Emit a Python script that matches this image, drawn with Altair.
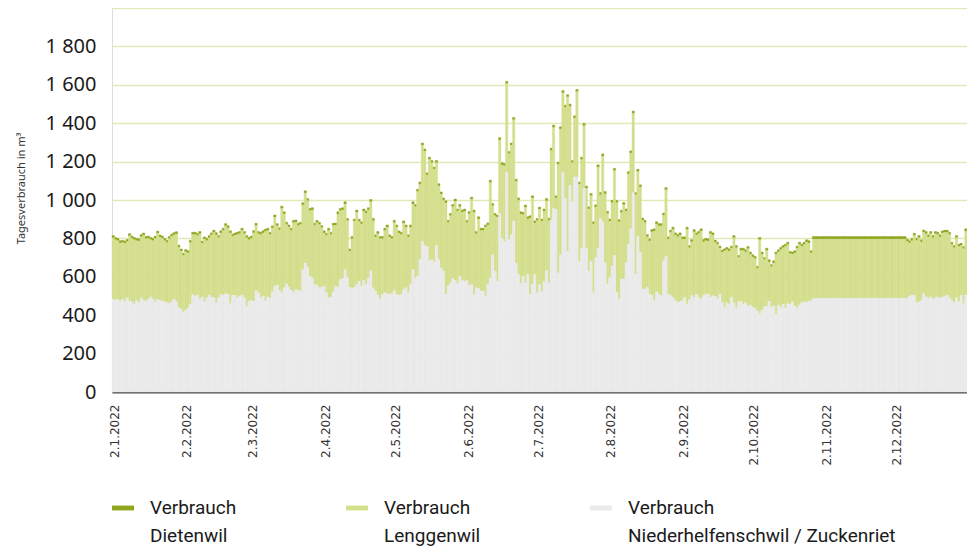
import altair as alt
import pandas as pd

# ---------------- daily consumption 2022 (m³) ----------------
# Verbrauch Niederhelfenschwil / Zuckenriet (grey, bottom of stack)
nieder_jan = [483, 478, 483, 474, 483, 470, 491, 474, 469, 457, 478, 465, 491, 478, 474, 483, 495, 483, 469, 483, 478, 474, 470, 465, 460, 470, 483, 470, 439, 431, 414]
nieder_feb = [426, 439, 457, 508, 500, 505, 483, 495, 470, 491, 505, 495, 491, 465, 491, 508, 505, 512, 508, 460, 505, 504, 491, 500, 505, 491, 448, 474]
nieder_mar = [477, 474, 529, 517, 491, 500, 474, 495, 488, 522, 551, 557, 529, 517, 543, 563, 546, 529, 517, 535, 529, 525, 638, 672, 650, 603, 594, 560, 557, 543, 546]
nieder_apr = [551, 517, 491, 495, 522, 551, 546, 586, 591, 638, 598, 546, 540, 545, 560, 577, 550, 581, 560, 594, 633, 543, 525, 505, 483, 508, 517, 512, 508, 512]
nieder_may = [529, 508, 505, 508, 535, 543, 517, 563, 638, 594, 603, 690, 784, 763, 758, 684, 689, 677, 763, 689, 646, 630, 508, 551, 568, 591, 581, 563, 603, 581, 577]
nieder_jun = [581, 557, 560, 508, 543, 540, 525, 525, 500, 560, 594, 715, 629, 577, 930, 801, 784, 1146, 793, 819, 891, 672, 612, 568, 603, 568, 612, 508, 563, 612]
nieder_jul = [517, 560, 525, 577, 633, 568, 896, 956, 950, 620, 715, 1146, 1008, 732, 1077, 991, 1120, 1120, 681, 749, 1060, 749, 629, 681, 517, 700, 749, 904, 887, 674, 562]
nieder_aug = [596, 657, 712, 519, 484, 588, 588, 674, 768, 850, 1039, 613, 812, 726, 536, 536, 545, 510, 502, 476, 522, 510, 502, 683, 709, 510, 502, 493, 476, 467, 471]
nieder_sep = [476, 493, 458, 481, 502, 493, 510, 493, 484, 502, 510, 510, 493, 502, 498, 484, 510, 467, 440, 465, 457, 495, 465, 439, 470, 470, 457, 465, 448, 453]
nieder_oct = [443, 436, 422, 408, 426, 443, 448, 474, 443, 448, 405, 453, 439, 457, 436, 460, 457, 470, 448, 439, 453, 465, 470, 465, 474, 477, 488, 488, 488, 488, 488]
nieder_nov = [488, 488, 488, 488, 488, 488, 488, 488, 488, 488, 488, 488, 488, 488, 488, 488, 488, 488, 488, 488, 488, 488, 488, 488, 488, 488, 488, 488, 488, 488]
nieder_dec = [488, 488, 488, 488, 488, 488, 500, 505, 505, 465, 470, 477, 512, 495, 488, 495, 483, 491, 495, 488, 495, 498, 505, 491, 477, 465, 491, 470, 505, 460, 505]

# Verbrauch Lenggenwil (light green, middle of stack)
lengg_jan = [320, 315, 305, 302, 295, 304, 292, 339, 331, 336, 310, 321, 317, 338, 324, 317, 298, 305, 331, 343, 328, 326, 318, 313, 338, 340, 335, 353, 314, 302, 297]
lengg_feb = [304, 285, 321, 312, 320, 309, 341, 279, 326, 297, 298, 322, 340, 353, 312, 320, 336, 353, 346, 368, 305, 312, 329, 324, 336, 333, 355, 319]
lengg_mar = [323, 355, 338, 307, 329, 328, 362, 346, 332, 331, 359, 308, 315, 439, 384, 309, 312, 312, 365, 349, 338, 347, 336, 364, 346, 341, 354, 307, 325, 329, 309]
lengg_apr = [277, 298, 350, 325, 345, 317, 381, 358, 357, 341, 294, 187, 258, 344, 376, 311, 325, 360, 371, 354, 358, 349, 282, 319, 315, 290, 324, 346, 299, 286]
lengg_may = [353, 350, 322, 312, 344, 315, 290, 295, 341, 371, 441, 392, 501, 491, 372, 527, 505, 483, 431, 384, 384, 369, 476, 331, 350, 374, 412, 378, 362, 355, 364]
lengg_jun = [301, 371, 443, 428, 281, 361, 316, 316, 358, 309, 497, 255, 289, 333, 383, 381, 394, 460, 448, 466, 527, 424, 387, 359, 321, 394, 289, 398, 447, 267]
lengg_jul = [375, 391, 364, 364, 363, 325, 362, 422, 60, 565, 655, 412, 474, 805, 410, 203, 307, 444, 401, 462, 327, 312, 324, 341, 358, 263, 422, 123, 341, 358, 367]
lengg_aug = [293, 329, 441, 467, 402, 346, 387, 267, 368, 394, 412, 414, 336, 341, 358, 346, 263, 276, 332, 362, 353, 355, 363, 237, 344, 286, 329, 353, 341, 341, 346]
lengg_sep = [320, 303, 388, 270, 280, 341, 307, 332, 354, 280, 278, 276, 331, 315, 281, 284, 238, 260, 294, 276, 277, 253, 338, 312, 230, 267, 280, 264, 298, 264]
lengg_oct = [260, 258, 221, 385, 291, 246, 289, 203, 209, 224, 312, 276, 302, 294, 322, 308, 263, 247, 276, 309, 315, 293, 298, 316, 302, 247, 308, 308, 308, 308, 308]
lengg_nov = [308, 308, 308, 308, 308, 308, 308, 308, 308, 308, 308, 308, 308, 308, 308, 308, 308, 308, 308, 308, 308, 308, 308, 308, 308, 308, 308, 308, 308, 308]
lengg_dec = [308, 308, 308, 308, 308, 296, 276, 283, 310, 324, 333, 304, 320, 329, 319, 329, 320, 333, 325, 319, 332, 333, 326, 329, 291, 286, 312, 288, 258, 286, 333]

# Verbrauch Dietenwil (dark green, thin top of stack)
dieten_jan = [12, 12, 12, 12, 12, 12, 12, 12, 12, 12, 12, 12, 12, 12, 12, 12, 12, 12, 12, 12, 12, 12, 12, 12, 12, 12, 12, 12, 12, 12, 12]
dieten_feb = [12, 12, 12, 12, 12, 12, 12, 12, 12, 12, 12, 12, 12, 12, 12, 12, 12, 12, 12, 12, 12, 12, 12, 12, 12, 12, 12, 12]
dieten_mar = [12, 12, 12, 12, 12, 12, 12, 12, 12, 12, 12, 12, 12, 12, 12, 12, 12, 12, 12, 12, 12, 12, 12, 12, 12, 12, 12, 12, 12, 12, 12]
dieten_apr = [12, 12, 12, 12, 12, 12, 12, 12, 12, 12, 12, 12, 12, 12, 12, 12, 12, 12, 12, 12, 12, 12, 12, 12, 12, 12, 12, 12, 12, 12]
dieten_may = [12, 12, 12, 12, 12, 12, 12, 12, 12, 12, 12, 12, 12, 12, 12, 12, 12, 12, 12, 12, 12, 12, 12, 12, 12, 12, 12, 12, 12, 12, 12]
dieten_jun = [12, 12, 12, 12, 12, 12, 12, 12, 12, 12, 12, 12, 12, 12, 12, 12, 12, 12, 12, 12, 12, 12, 12, 12, 12, 12, 12, 12, 12, 12]
dieten_jul = [12, 12, 12, 12, 12, 12, 12, 12, 12, 12, 12, 12, 12, 12, 12, 12, 12, 12, 12, 12, 12, 12, 12, 12, 12, 12, 12, 12, 12, 12, 12]
dieten_aug = [12, 12, 12, 12, 12, 12, 12, 12, 12, 12, 12, 12, 12, 12, 12, 12, 12, 12, 12, 12, 12, 12, 12, 12, 12, 12, 12, 12, 12, 12, 12]
dieten_sep = [12, 12, 12, 12, 12, 12, 12, 12, 12, 12, 12, 12, 12, 12, 12, 12, 12, 12, 12, 12, 12, 12, 12, 12, 12, 12, 12, 12, 12, 12]
dieten_oct = [12, 12, 12, 12, 12, 12, 12, 12, 12, 12, 12, 12, 12, 12, 12, 12, 12, 12, 12, 12, 12, 12, 12, 12, 12, 12, 14, 14, 14, 14, 14]
dieten_nov = [14, 14, 14, 14, 14, 14, 14, 14, 14, 14, 14, 14, 14, 14, 14, 14, 14, 14, 14, 14, 14, 14, 14, 14, 14, 14, 14, 14, 14, 14]
dieten_dec = [14, 14, 14, 14, 14, 12, 12, 12, 12, 12, 12, 12, 12, 12, 12, 12, 12, 12, 12, 12, 12, 12, 12, 12, 12, 12, 12, 12, 12, 12, 12]

niederhelfenschwil = (nieder_jan + nieder_feb + nieder_mar + nieder_apr + nieder_may + nieder_jun
                      + nieder_jul + nieder_aug + nieder_sep + nieder_oct + nieder_nov + nieder_dec)
lenggenwil = (lengg_jan + lengg_feb + lengg_mar + lengg_apr + lengg_may + lengg_jun
              + lengg_jul + lengg_aug + lengg_sep + lengg_oct + lengg_nov + lengg_dec)
dietenwil = (dieten_jan + dieten_feb + dieten_mar + dieten_apr + dieten_may + dieten_jun
             + dieten_jul + dieten_aug + dieten_sep + dieten_oct + dieten_nov + dieten_dec)

series_names = ["Verbrauch Dietenwil", "Verbrauch Lenggenwil", "Verbrauch Niederhelfenschwil / Zuckenriet"]
series_colors = ["#8fa61e", "#d4df8d", "#eaeaea"]
stack_order = [2, 1, 0]
tick_months = [1, 2, 3, 4, 5, 6, 7, 8, 9, 10, 11, 12]
y_ticks = [0, 200, 400, 600, 800, 1000, 1200, 1400, 1600, 1800, 2000]

# ---------------- table ----------------
days = pd.date_range("2022-01-01", periods=365, freq="D")
rows = []
for name, vals, order in zip(series_names, [dietenwil, lenggenwil, niederhelfenschwil], stack_order):
    for d, v in zip(days, vals):
        rows.append({"start": d, "end": d + pd.Timedelta(days=1), "series": name, "value": v, "order": order})
df = pd.DataFrame(rows)

FONT = "Noto Sans"

x_axis = alt.Axis(
    values=[alt.DateTime(year=2022, month=m, date=2) for m in tick_months],
    format="%-d.%-m.%Y",
    labelAngle=270,
    labelFont="DejaVu Sans",
    labelFontSize=12,
    labelColor="#333333",
    labelPadding=12,
    ticks=False,
    grid=False,
    domainColor="#555555",
    domainWidth=2,
    labelOverlap=False,
    title=None,
)

y_axis = alt.Axis(
    values=y_ticks,
    labelExpr="datum.value >= 2000 ? '' : replace(format(datum.value, ','), ',', ' ')",
    labelFont=FONT,
    labelFontSize=20,
    labelColor="#1a1a1a",
    labelPadding=16,
    ticks=False,
    domain=False,
    grid=True,
    gridColor="#e1e9b6",
    gridWidth=1.5,
    title="Tagesverbrauch in m³",
    titleFont=FONT,
    titleFontSize=11,
    titleFontWeight="normal",
    titleColor="#333333",
    titleX=-86,
    titleY=180,
)

legend = alt.Legend(
    title=None,
    orient="bottom",
    direction="horizontal",
    columns=3,
    columnPadding=109,
    symbolType="M-1,-0.22L1,-0.22L1,0.22L-1,0.22Z",
    symbolSize=484,
    symbolStrokeWidth=0,
    symbolOpacity=1,
    labelFont="Roboto",
    labelFontSize=19,
    labelColor="#1a1a1a",
    labelOffset=16,
    labelLimit=400,
    labelExpr="['Verbrauch', substring(datum.label, 10)]",
    offset=31,
)

color_scale = alt.Scale(domain=series_names, range=series_colors)

chart = (
    alt.Chart(df)
    .transform_stack(
        stack="value",
        groupby=["start"],
        as_=["y0", "y1"],
        sort=[alt.SortField("order", order="ascending")],
    )
    .mark_bar(strokeWidth=0.4)
    .encode(
        x=alt.X(
            "start:T",
            scale=alt.Scale(domain=[alt.DateTime(year=2022, month=1, date=1),
                                    alt.DateTime(year=2023, month=1, date=1)]),
            axis=x_axis,
        ),
        x2="end:T",
        y=alt.Y("y0:Q", scale=alt.Scale(domain=[0, 2000], nice=False), axis=y_axis),
        y2="y1:Q",
        color=alt.Color("series:N", scale=color_scale, legend=legend),
        stroke=alt.Stroke("series:N", scale=color_scale, legend=None),
    )
    .properties(
        width=855,
        height=384,
        autosize=alt.AutoSizeParams(type="none"),
        padding={"left": 104, "top": 0, "right": 0, "bottom": 154},
        background="white",
    )
    .configure_view(stroke=None)
    .configure(style={"guide-label": {"lineHeight": 28}})
)

chart.save("out.html", embed_options={"renderer": "svg", "actions": False})
